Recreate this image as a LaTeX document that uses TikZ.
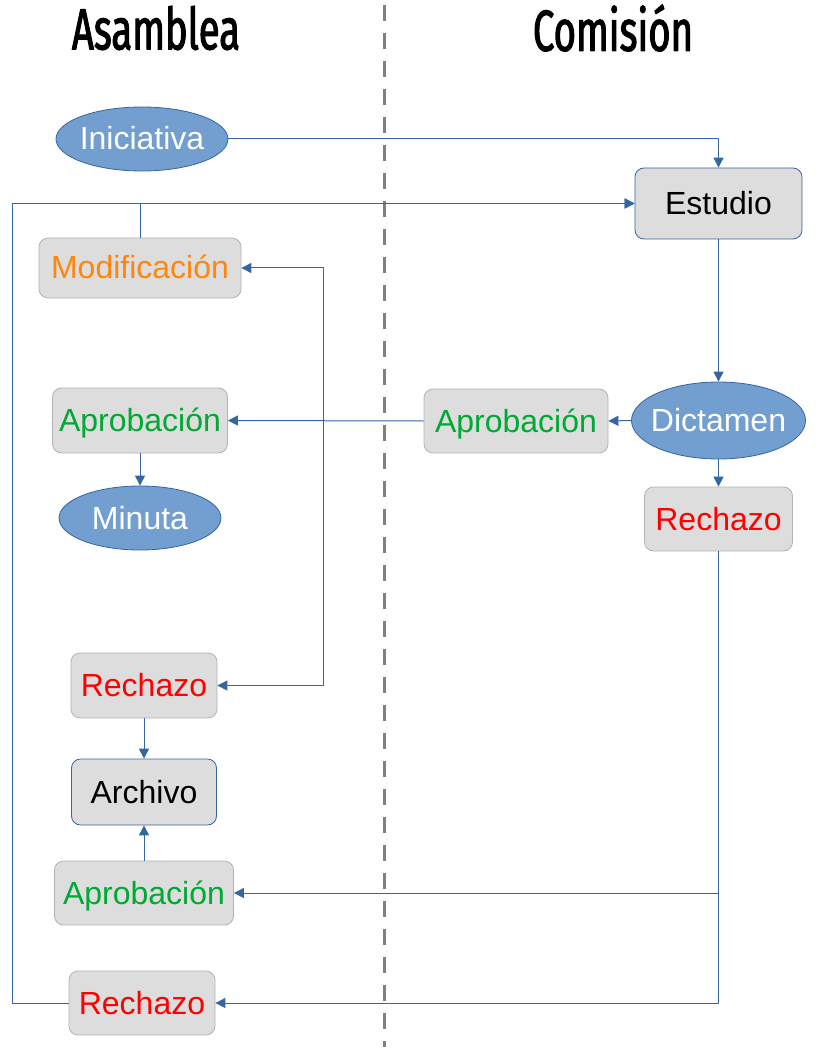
\documentclass[tikz,border=0pt]{standalone}
\usepackage{fontspec}
\setmainfont{Liberation Sans}
\newfontfamily\headfont[FakeStretch=0.66,FakeBold=1.8]{Fira Sans}
\usetikzlibrary{arrows.meta,shapes.geometric}
\definecolor{linkblue}{HTML}{3465A4}
\definecolor{ovalblue}{HTML}{729FCF}
\definecolor{boxfill}{HTML}{DDDDDD}
\definecolor{boxgray}{HTML}{B3B3B3}
\definecolor{txtorange}{HTML}{FF860D}
\definecolor{txtgreen}{HTML}{00A933}
\definecolor{divgray}{HTML}{808080}
\tikzset{
  box/.style={draw=boxgray,fill=boxfill,rounded corners=9pt,line width=0.8pt,
    inner sep=0pt,text height=28pt,text depth=6pt,font=\fontsize{32}{38}\selectfont},
  bluebox/.style={box,draw=linkblue},
  oval/.style={ellipse,draw=linkblue,fill=ovalblue,text=white,line width=0.8pt,
    inner xsep=-14pt,inner ysep=0pt,text height=28pt,text depth=6pt,
    font=\fontsize{32}{38}\selectfont},
  head/.style={font=\headfont\fontsize{58}{64}\selectfont},
  tip/.tip={Triangle[length=10pt,width=10pt]},
  link/.style={draw=linkblue,line width=1pt,-tip},
  linkboth/.style={link,tip-tip},
  divider/.style={draw=divgray,line width=3pt,dash pattern=on 16pt off 12pt}
}
\begin{document}
\begin{tikzpicture}[x=1pt,y=-1pt,line join=round]
  \useasboundingbox (0,0) rectangle (816,1056);
  % columns
  \node[head] (asam) at (156,28) {Asamblea};
  \node[head] (comi) at (613,28) {Comisión};
  \draw[divider] (384,5) -- (384,1047);
  % Comision side
  \node[bluebox,minimum width=167pt,minimum height=71pt] (est) at (718.5,203.5) {Estudio};
  \node[oval,minimum width=174pt,minimum height=77pt] (dic) at (718.5,420.5) {Dictamen};
  \node[box,text=txtgreen,minimum width=184pt,minimum height=64pt] (apr) at (516,421) {Aprobación};
  \node[box,text=red,minimum width=148pt,minimum height=64pt] (rer) at (718.5,519) {Rechazo};
  % Asamblea side
  \node[oval,minimum width=172pt,minimum height=64pt] (ini) at (142,139) {Iniciativa};
  \node[box,text=txtorange,minimum width=202pt,minimum height=60pt] (mod) at (140,268) {Modificación};
  \node[box,text=txtgreen,minimum width=175pt,minimum height=65pt] (apl) at (140,420.5) {Aprobación};
  \node[oval,minimum width=162pt,minimum height=64pt] (min) at (140,518) {Minuta};
  \node[box,text=red,minimum width=146pt,minimum height=65pt] (re1) at (144,685.5) {Rechazo};
  \node[bluebox,minimum width=145pt,minimum height=66pt] (arc) at (144,792) {Archivo};
  \node[box,text=txtgreen,minimum width=179pt,minimum height=64pt] (ap2) at (144,893) {Aprobación};
  \node[box,text=red,minimum width=146pt,minimum height=64pt] (re2) at (142,1003) {Rechazo};
  % connectors
  \draw[link] (ini.east) -| (est.north);
  \draw[link] (re2.west) -- ++(-56,0) |- (est.west);
  \draw[link] (mod.north) |- (est.west);
  \draw[link] (est.south) -- (dic.north);
  \draw[link] (dic.west) -- (apr.east);
  \draw[link] (dic.south) -- (rer.north);
  \draw[link] (apr.west) -- (apl.east);
  \draw[link] (apl.south) -- (min.north);
  \draw[linkboth] (mod.east) -- ++(82,0) |- (re1.east);
  \draw[link] (re1.south) -- (arc.north);
  \draw[link] (ap2.north) -- (arc.south);
  \draw[link] (rer.south) |- (ap2.east);
  \draw[link] (rer.south) |- (re2.east);
\end{tikzpicture}
\end{document}
